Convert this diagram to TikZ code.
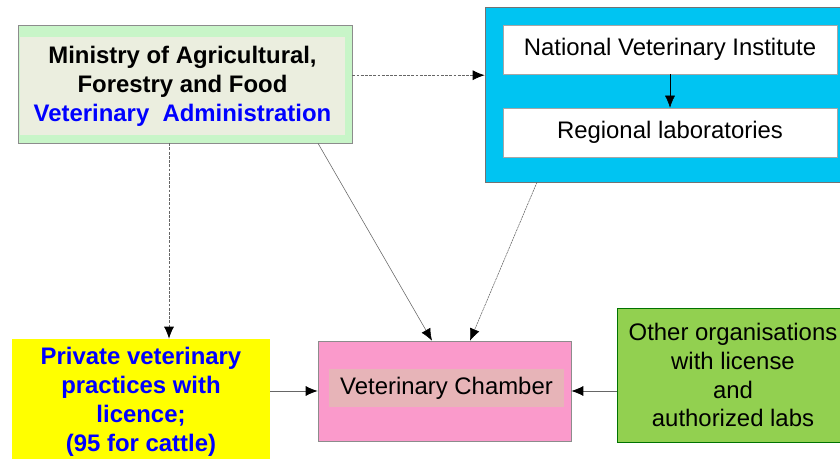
\documentclass[tikz,border=0pt]{standalone}
\usepackage{fontspec}
\setmainfont{Liberation Sans}
\usepackage{xcolor}
\usepackage{tikz}
\usetikzlibrary{arrows.meta}

\definecolor{minframe}{HTML}{C8F5C8}
\definecolor{minfill}{HTML}{EBEEDF}
\definecolor{labblue}{HTML}{00C4F2}
\definecolor{privyellow}{HTML}{FFFF00}
\definecolor{champink}{HTML}{FA9ACB}
\definecolor{chamlabel}{HTML}{E7B4B8}
\definecolor{othgreen}{HTML}{92D050}
\definecolor{textblue}{HTML}{0000FF}

\newcommand{\pxu}{0.025cm}

\tikzset{
  frame/.style 2 args={minimum width=#1*\pxu, minimum height=#2*\pxu, inner sep=0pt, align=center},
  txt/.style={font=\fontsize{17}{20.6}\selectfont},
  btxt/.style={font=\fontsize{17}{20.6}\selectfont\bfseries},
  link/.style={-{Latex[length=3mm,width=2.5mm,black]}, black!60, semithick},
  dashlink/.style={link, dash pattern=on 2pt off 1pt}
}

\begin{document}
\begin{tikzpicture}[x=\pxu, y=\pxu]
  \useasboundingbox (0,0) rectangle (840,459);

  % ministry
  \node[frame={334}{118}, fill=minframe, draw=black!45] (ministry) at (185,375) {};
  \node[frame={325}{98}, fill=minfill, btxt] (ministrytxt) at (182.5,373)
    {Ministry of Agricultural,\\Forestry and Food\\\textcolor{textblue}{Veterinary\ \ Administration}};

  % laboratories
  \node[frame={357}{175}, fill=labblue, draw=black!55] (labs) at (663.5,364.5) {};
  \node[frame={334}{49}, fill=white, draw=black!35, txt] (nvi) at (670,409.5) {National Veterinary Institute};
  \node[frame={334}{49}, fill=white, draw=black!35, txt] (reglab) at (670,326.5) {Regional laboratories};

  % bottom row
  \node[frame={258}{126}, fill=privyellow, btxt, text=textblue] (private) at (141,57)
    {Private veterinary\\practices with\\licence;\\(95 for cattle)};
  \node[frame={253}{100}, fill=champink, draw=black!45] (chamber) at (444.5,68) {};
  \node[frame={235}{38}, fill=chamlabel, txt] (chamtxt) at (446.5,71) {Veterinary Chamber};
  \node[frame={232}{134}, fill=othgreen, draw=green!45!black, txt] (other) at (733,84)
    {Other organisations\\with license\\and\\authorized labs};

  % links
  \draw[dashlink] (ministry.3) -- (ministry.3 -| labs.west);
  \draw[-{Latex[length=3mm,width=2.5mm]}, black] (nvi.south) -- (reglab.north);
  \draw[dashlink] (ministry.south -| 169,0) -- (private.north -| 169,0);
  \draw[link, thin] (ministry.south -| 318,0) -- (chamber.north -| 432,0);
  \draw[link, thin, dash pattern=on 1.5pt off 0.5pt] (labs.south -| 537,0) -- (chamber.north -| 470,0);
  \draw[link] (chamber.west -| private.east) -- (chamber.west);
  \draw[link] (chamber.east -| other.west) -- (chamber.east);
\end{tikzpicture}
\end{document}
